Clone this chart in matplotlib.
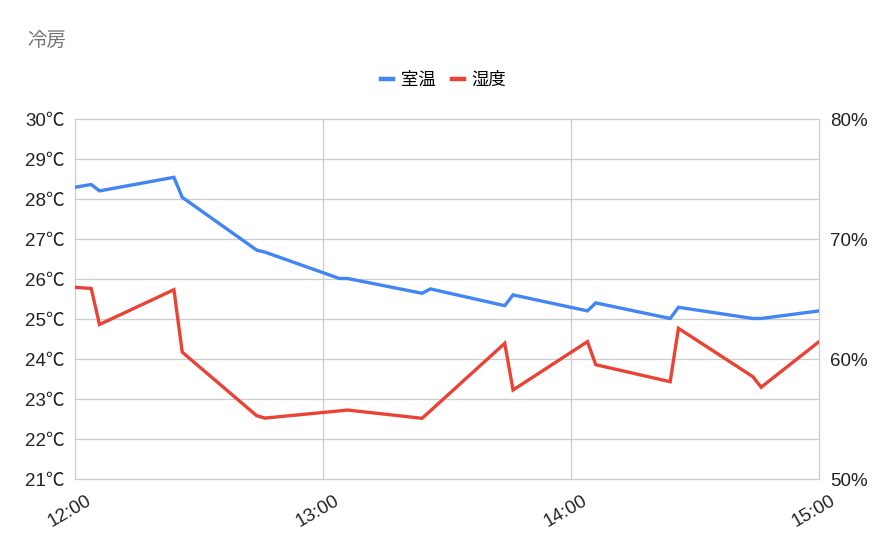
import matplotlib.pyplot as plt
from matplotlib.transforms import ScaledTranslation

plt.rcParams['font.family'] = ['Liberation Sans', 'Noto Sans CJK JP', 'DejaVu Sans']

times = ["12:00", "12:04", "12:06", "12:24", "12:26", "12:44", "12:46", "13:04", "13:06",
         "13:24", "13:26", "13:44", "13:46", "14:04", "14:06", "14:24", "14:26", "14:44",
         "14:46", "15:00"]
temp = [28.30, 28.37, 28.21, 28.55, 28.05, 26.73, 26.68, 26.02, 26.02,
        25.65, 25.76, 25.34, 25.61, 25.21, 25.41, 25.02, 25.30, 25.02,
        25.02, 25.21]
humid = [66.0, 65.9, 62.9, 65.8, 60.6, 55.3, 55.1, 55.7, 55.77,
         55.08, 55.7, 61.33, 57.44, 61.47, 59.55, 58.13, 62.58, 58.55,
         57.67, 61.47]

tick_labels = ["12:00", "13:00", "14:00", "15:00"]
temp_ticks = list(range(21, 31))
humid_ticks = [50, 60, 70, 80]


def to_min(t):
    h, m = t.split(":")
    return (int(h) - 12) * 60 + int(m)


x = [to_min(t) for t in times]

fig = plt.figure(figsize=(8.87, 5.48), dpi=100)
ax = fig.add_axes([0.0842, 0.1254, 0.8392, 0.6569])
ax2 = ax.twinx()

blue = "#4285F4"
red = "#EA4335"

l1, = ax.plot(x, temp, color=blue, lw=2.4, solid_joinstyle='miter', zorder=3)
l2, = ax2.plot(x, humid, color=red, lw=2.4, solid_joinstyle='miter', zorder=3)

ax.set_xlim(0, 180)
ax.set_ylim(21, 30)
ax2.set_ylim(50, 80)

ax.set_yticks(temp_ticks)
ax.set_yticklabels([f"{t}℃" for t in temp_ticks])
ax2.set_yticks(humid_ticks)
ax2.set_yticklabels([f"{h}%" for h in humid_ticks])
ax.set_xticks([to_min(t) for t in tick_labels])
ax.set_xticklabels(tick_labels, rotation=30, ha='right', rotation_mode='anchor')

ax.grid(True, color="#cccccc", lw=0.9)
ax.set_axisbelow(True)
for gl in ax.get_xgridlines() + ax.get_ygridlines():
    gl.set_clip_on(False)
for a in (ax, ax2):
    for s in a.spines.values():
        s.set_visible(False)
    a.tick_params(length=0, labelsize=13.5, colors="#222222")
ax.tick_params(axis='y', pad=7)
ax.tick_params(axis='x', pad=9)
ax2.tick_params(axis='y', pad=8)
offset = ScaledTranslation(11 / 100, 0, fig.dpi_scale_trans)
for lab in ax.get_xticklabels():
    lab.set_transform(lab.get_transform() + offset)

fig.text(0.031, 0.925, "冷房", fontsize=14, color="#757575", va='center')
leg = fig.legend([l1, l2], ["室温", "湿度"], loc='center', bbox_to_anchor=(0.5, 0.854),
                 ncol=2, frameon=False, fontsize=12.5, handlelength=0.7, handletextpad=0.45,
                 columnspacing=0.95)
for h in leg.get_lines():
    h.set_linewidth(3.2)

fig.savefig("out.png", dpi=100)
